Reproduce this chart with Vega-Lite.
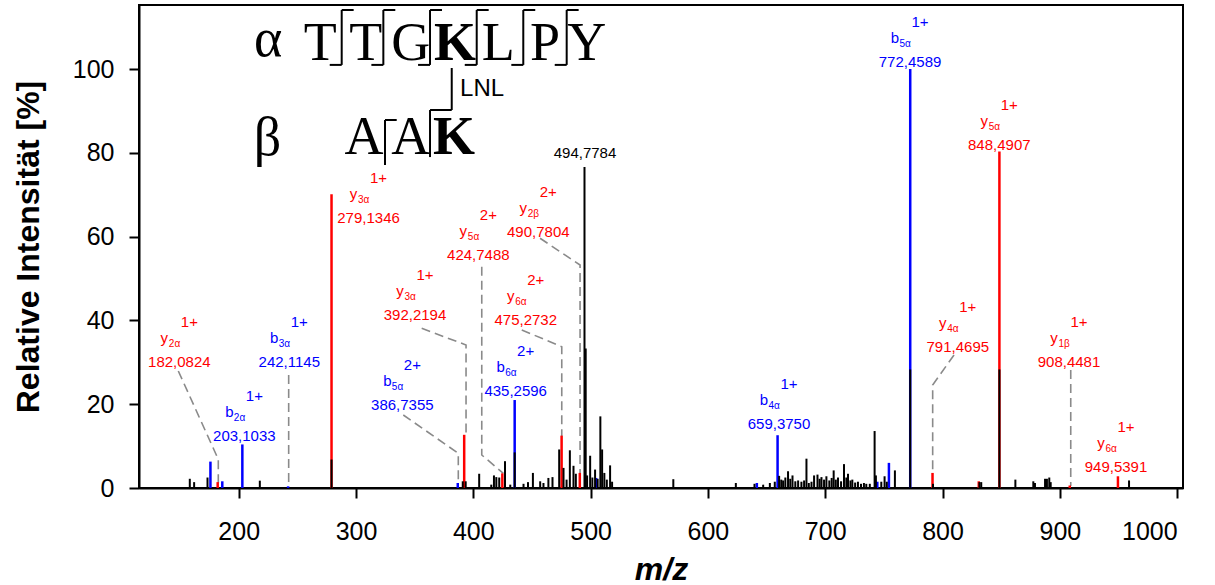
{
"$schema":"https://vega.github.io/schema/vega-lite/v6.json",
"width":1044,"height":483,
"autosize":{"type":"none"},
"padding":{"left":139,"top":5,"right":32,"bottom":97},
"background":"white",
"config":{"view":{"stroke":"#000","strokeWidth":2},"text":{"font":"Liberation Sans"}},
"datasets":{
"peaks":[
{"x":175.9,"y":6.3,"s":"b"},{"x":186,"y":1.6,"s":"b"},{"x":203.1,"y":10.4,"s":"b"},{"x":242.11,"y":0.4,"s":"b"},{"x":386.74,"y":1.2,"s":"b"},{"x":435.26,"y":21,"s":"b"},{"x":504.7,"y":2.4,"s":"b"},{"x":641.7,"y":1.2,"s":"b"},{"x":659.38,"y":12.6,"s":"b"},{"x":744.4,"y":1.5,"s":"b"},{"x":754.3,"y":6,"s":"b"},{"x":772.46,"y":100,"s":"b"},
{"x":182.08,"y":1.4,"s":"y"},{"x":279.13,"y":70.1,"s":"y"},{"x":392.22,"y":12.7,"s":"y"},{"x":424.75,"y":3.5,"s":"y"},{"x":475.27,"y":12.5,"s":"y"},{"x":490.78,"y":3.6,"s":"y"},{"x":791.47,"y":3.6,"s":"y"},{"x":830.9,"y":1.6,"s":"y"},{"x":848.49,"y":80.3,"s":"y"},{"x":908.45,"y":0.6,"s":"y"},{"x":949.54,"y":2.8,"s":"y"},
{"x":158.3,"y":2.2,"s":"n"},{"x":162,"y":1.4,"s":"n"},{"x":173.4,"y":2.5,"s":"n"},{"x":218,"y":1.75,"s":"n"},{"x":279.13,"y":6.8,"s":"n"},{"x":391,"y":1.6,"s":"n"},{"x":393.5,"y":1.6,"s":"n"},{"x":405,"y":3.4,"s":"n"},{"x":415.3,"y":0.8,"s":"n"},{"x":417.6,"y":3,"s":"n"},{"x":419.6,"y":2.6,"s":"n"},{"x":422.1,"y":2.5,"s":"n"},{"x":427,"y":6.4,"s":"n"},{"x":431.5,"y":0.8,"s":"n"},{"x":435.26,"y":8.5,"s":"n"},{"x":442.8,"y":1,"s":"n"},{"x":446.6,"y":1.4,"s":"n"},{"x":450.8,"y":3.6,"s":"n"},{"x":457,"y":1.6,"s":"n"},{"x":459.8,"y":1.2,"s":"n"},{"x":464,"y":2.4,"s":"n"},{"x":467.5,"y":2.6,"s":"n"},{"x":473.2,"y":9.2,"s":"n"},{"x":476.9,"y":4.8,"s":"n"},{"x":479.5,"y":2,"s":"n"},{"x":482.3,"y":9,"s":"n"},{"x":485.4,"y":5.3,"s":"n"},{"x":487.4,"y":3.4,"s":"n"},{"x":494.78,"y":76.6,"s":"n"},{"x":495.8,"y":33.3,"s":"n"},{"x":497,"y":3,"s":"n"},{"x":499.6,"y":7.7,"s":"n"},{"x":501.5,"y":2.5,"s":"n"},{"x":503.8,"y":4.4,"s":"n"},{"x":506,"y":2.2,"s":"n"},{"x":508.3,"y":17.1,"s":"n"},{"x":509.8,"y":9.2,"s":"n"},{"x":511.7,"y":3.6,"s":"n"},{"x":513.8,"y":2,"s":"n"},{"x":516.6,"y":5.4,"s":"n"},{"x":518.3,"y":1.5,"s":"n"},{"x":570.5,"y":2.1,"s":"n"},{"x":623.8,"y":1.2,"s":"n"},{"x":639.7,"y":1,"s":"n"},{"x":647.1,"y":0.8,"s":"n"},{"x":652.8,"y":1.2,"s":"n"},{"x":657,"y":1.5,"s":"n"},{"x":660.7,"y":2.9,"s":"n"},{"x":662.5,"y":2,"s":"n"},{"x":664.1,"y":1.8,"s":"n"},{"x":666,"y":2.5,"s":"n"},{"x":668.3,"y":4,"s":"n"},{"x":670.2,"y":2.2,"s":"n"},{"x":672.1,"y":3,"s":"n"},{"x":674.5,"y":1.6,"s":"n"},{"x":676.9,"y":1.8,"s":"n"},{"x":679.7,"y":1.5,"s":"n"},{"x":682,"y":1.8,"s":"n"},{"x":684,"y":7,"s":"n"},{"x":686,"y":1.2,"s":"n"},{"x":688.3,"y":1.5,"s":"n"},{"x":690.5,"y":3,"s":"n"},{"x":693.4,"y":3.2,"s":"n"},{"x":695.2,"y":2.2,"s":"n"},{"x":696.8,"y":2.6,"s":"n"},{"x":699,"y":2,"s":"n"},{"x":701,"y":2.8,"s":"n"},{"x":703.5,"y":1.8,"s":"n"},{"x":705.5,"y":2.4,"s":"n"},{"x":707.2,"y":4.2,"s":"n"},{"x":709,"y":2,"s":"n"},{"x":710.9,"y":2.5,"s":"n"},{"x":713.5,"y":1.6,"s":"n"},{"x":716,"y":5.7,"s":"n"},{"x":718,"y":2.5,"s":"n"},{"x":719.4,"y":3.4,"s":"n"},{"x":721.5,"y":1.8,"s":"n"},{"x":723.1,"y":2,"s":"n"},{"x":725.5,"y":1.3,"s":"n"},{"x":727.9,"y":1.5,"s":"n"},{"x":730.5,"y":1,"s":"n"},{"x":733,"y":1.2,"s":"n"},{"x":735,"y":1,"s":"n"},{"x":738,"y":1,"s":"n"},{"x":742.1,"y":13.6,"s":"n"},{"x":743.2,"y":3,"s":"n"},{"x":747.8,"y":1.5,"s":"n"},{"x":750.6,"y":2.8,"s":"n"},{"x":752.5,"y":1.5,"s":"n"},{"x":759.4,"y":4.2,"s":"n"},{"x":772.46,"y":28.3,"s":"n"},{"x":791.9,"y":1,"s":"n"},{"x":831.5,"y":1.4,"s":"n"},{"x":833,"y":1.4,"s":"n"},{"x":848.49,"y":28.3,"s":"n"},{"x":862.1,"y":2,"s":"n"},{"x":877.4,"y":1.6,"s":"n"},{"x":878.8,"y":1.2,"s":"n"},{"x":887.4,"y":2.2,"s":"n"},{"x":889,"y":2.2,"s":"n"},{"x":891,"y":2.5,"s":"n"},{"x":892.2,"y":1.4,"s":"n"},{"x":959,"y":1.8,"s":"n"}
],
"ann":[
{"x":149.4,"y":30.0,"label":"182,0824","ch":"1+","ion":"y","sub":"2α","s":"y"},
{"x":204.8,"y":12.41,"label":"203,1033","ch":"1+","ion":"b","sub":"2α","s":"b"},
{"x":243.1,"y":30.0,"label":"242,1145","ch":"1+","ion":"b","sub":"3α","s":"b"},
{"x":310.7,"y":64.45,"label":"279,1346","ch":"1+","ion":"y","sub":"3α","s":"y"},
{"x":339.5,"y":19.81,"label":"386,7355","ch":"2+","ion":"b","sub":"5α","s":"b"},
{"x":350.3,"y":41.3,"label":"392,2194","ch":"1+","ion":"y","sub":"3α","s":"y"},
{"x":404.3,"y":55.62,"label":"424,7488","ch":"2+","ion":"y","sub":"5α","s":"y"},
{"x":436.1,"y":23.16,"label":"435,2596","ch":"2+","ion":"b","sub":"6α","s":"b"},
{"x":444.7,"y":40.1,"label":"475,2732","ch":"2+","ion":"y","sub":"6α","s":"y"},
{"x":455.4,"y":61.18,"label":"490,7804","ch":"2+","ion":"y","sub":"2β","s":"y"},
{"x":495.2,"y":79.9,"label":"494,7784","ch":"","ion":"","sub":"","s":"n"},
{"x":660.6,"y":15.28,"label":"659,3750","ch":"1+","ion":"b","sub":"4α","s":"b"},
{"x":772.3,"y":101.77,"label":"772,4589","ch":"1+","ion":"b","sub":"5α","s":"b"},
{"x":813,"y":33.73,"label":"791,4695","ch":"1+","ion":"y","sub":"4α","s":"y"},
{"x":848.4,"y":81.88,"label":"848,4907","ch":"1+","ion":"y","sub":"5α","s":"y"},
{"x":907.8,"y":30.15,"label":"908,4481","ch":"1+","ion":"y","sub":"1β","s":"y"},
{"x":947.9,"y":5.08,"label":"949,5391","ch":"1+","ion":"y","sub":"6α","s":"y"}
],
"leaders":[
{"id":1,"o":1,"x":148.5,"y":27.93},{"id":1,"o":2,"x":182.6,"y":6.85},{"id":1,"o":3,"x":182.6,"y":0.3},
{"id":3,"o":1,"x":242.6,"y":26.98},{"id":3,"o":2,"x":242.6,"y":0.3},
{"id":5,"o":1,"x":340.3,"y":17.43},{"id":5,"o":2,"x":387.2,"y":8.28},{"id":5,"o":3,"x":387.2,"y":1.12},
{"id":6,"o":1,"x":356,"y":38.12},{"id":6,"o":2,"x":393.8,"y":34.14},{"id":6,"o":3,"x":393.8,"y":12.65},
{"id":7,"o":1,"x":407.2,"y":52.83},{"id":7,"o":2,"x":407.2,"y":7.88},{"id":7,"o":3,"x":425.6,"y":3.51},
{"id":9,"o":1,"x":441.3,"y":37.72},{"id":9,"o":2,"x":475.4,"y":33.73},{"id":9,"o":3,"x":475.4,"y":12.41},
{"id":10,"o":1,"x":456.9,"y":59.61},{"id":10,"o":2,"x":491,"y":53.23},{"id":10,"o":3,"x":491,"y":3.51},
{"id":14,"o":1,"x":809.8,"y":31.75},{"id":14,"o":2,"x":791.6,"y":24.59},{"id":14,"o":3,"x":791.6,"y":3.51},
{"id":16,"o":1,"x":909.3,"y":28.17},{"id":16,"o":2,"x":909.3,"y":0.48}
],
"greek":[{"x":225,"y":106.9,"t":"α"},{"x":224.5,"y":83.3,"t":"β"}],
"seq":[
{"x":269.6,"y":106.0,"t":"T","b":false},{"x":308.3,"y":106.0,"t":"T","b":false},{"x":346.6,"y":106.0,"t":"G","b":false},{"x":384.4,"y":106.0,"t":"K","b":true},{"x":421.3,"y":106.0,"t":"L","b":false},{"x":461.1,"y":106.0,"t":"P","b":false},{"x":496.7,"y":106.0,"t":"Y","b":false},
{"x":306.8,"y":83.58,"t":"A","b":false},{"x":346.6,"y":83.58,"t":"A","b":false},{"x":383.5,"y":83.58,"t":"K","b":true}
],
"brackets":[
{"x":287.8,"y":101.0,"x2":287.8,"y2":114.1},{"x":287.8,"y":114.1,"x2":298.0,"y2":114.1},{"x":277.6,"y":101.0,"x2":287.8,"y2":101.0},
{"x":323.3,"y":101.0,"x2":323.3,"y2":114.1},{"x":323.3,"y":114.1,"x2":333.5,"y2":114.1},{"x":313.1,"y":101.0,"x2":323.3,"y2":101.0},
{"x":363.1,"y":101.0,"x2":363.1,"y2":114.1},{"x":363.1,"y":114.1,"x2":373.3,"y2":114.1},{"x":352.9,"y":101.0,"x2":363.1,"y2":101.0},
{"x":402.9,"y":101.0,"x2":402.9,"y2":114.1},{"x":402.9,"y":114.1,"x2":413.1,"y2":114.1},{"x":392.7,"y":101.0,"x2":402.9,"y2":101.0},
{"x":442.6,"y":101.0,"x2":442.6,"y2":114.1},{"x":442.6,"y":114.1,"x2":452.8,"y2":114.1},{"x":432.4,"y":101.0,"x2":442.6,"y2":101.0},
{"x":479.6,"y":101.0,"x2":479.6,"y2":114.1},{"x":479.6,"y":114.1,"x2":489.8,"y2":114.1},{"x":469.4,"y":101.0,"x2":479.6,"y2":101.0},
{"x":324.7,"y":77.1,"x2":324.7,"y2":87.85},{"x":324.7,"y":87.85,"x2":334.7,"y2":87.85},
{"x":363.1,"y":79.0,"x2":363.1,"y2":90.23},{"x":363.1,"y":90.23,"x2":381.6,"y2":90.23},
{"x":381.6,"y":90.23,"x2":381.6,"y2":100.26}
],
"lnl":[{"x":388.7,"y":95.25,"t":"LNL"}]
},
"encoding":{
"x":{"field":"x","type":"quantitative","scale":{"domain":[115,1005],"nice":false,"zero":false},
"axis":{"values":[200,300,400,500,600,700,800,900,1000],"format":"d","grid":false,"tickSize":10,"tickWidth":2,"tickColor":"#000","domainColor":"#000","domainWidth":2,"labelFont":"Liberation Sans","labelFontSize":25,"labelColor":"#000","labelPadding":21,"labelFlush":10,"title":"m/z","titleFont":"Liberation Sans","titleFontSize":32,"titleFontWeight":"bold","titleFontStyle":"italic","titleColor":"#000","titlePadding":10}},
"y":{"field":"y","type":"quantitative","scale":{"domain":[0,115.3],"nice":false,"zero":false},
"axis":{"values":[0,20,40,60,80,100],"grid":false,"tickSize":10,"tickWidth":2,"tickColor":"#000","domainColor":"#000","domainWidth":2,"labelFont":"Liberation Sans","labelFontSize":25,"labelColor":"#000","labelPadding":15,"labelFlush":false,"title":"Relative Intensität [%]","titleFont":"Liberation Sans","titleFontSize":32,"titleFontWeight":"bold","titleColor":"#000","titlePadding":27}}
},
"layer":[
{"data":{"name":"leaders"},"mark":{"type":"line","color":"#8a8a8a","strokeWidth":1.6,"strokeDash":[9,5]},
"encoding":{"detail":{"field":"id","type":"nominal"},"order":{"field":"o","type":"quantitative"}}},
{"data":{"name":"peaks"},"transform":[{"filter":"datum.s != 'n'"}],"mark":{"type":"rule","strokeWidth":2.5},
"encoding":{"y2":{"datum":0},"color":{"field":"s","type":"nominal","scale":{"domain":["b","y","n"],"range":["#0000ff","#ff0000","#000000"]},"legend":null}}},
{"data":{"name":"peaks"},"transform":[{"filter":"datum.s == 'n'"}],"mark":{"type":"rule","strokeWidth":2,"color":"#000"},
"encoding":{"y2":{"datum":0}}},
{"data":{"name":"ann"},"mark":{"type":"text","fontSize":15,"align":"center","baseline":"middle"},
"encoding":{"text":{"field":"label"},"color":{"field":"s","type":"nominal","scale":{"domain":["b","y","n"],"range":["#0000ff","#ff0000","#000000"]},"legend":null}}},
{"data":{"name":"ann"},"mark":{"type":"text","fontSize":15,"align":"center","baseline":"middle","dx":10,"dy":-40},
"encoding":{"text":{"field":"ch"},"color":{"field":"s","type":"nominal","scale":{"domain":["b","y","n"],"range":["#0000ff","#ff0000","#000000"]},"legend":null}}},
{"data":{"name":"ann"},"mark":{"type":"text","fontSize":15,"align":"center","baseline":"middle","dx":-15,"dy":-24},
"encoding":{"text":{"field":"ion"},"color":{"field":"s","type":"nominal","scale":{"domain":["b","y","n"],"range":["#0000ff","#ff0000","#000000"]},"legend":null}}},
{"data":{"name":"ann"},"mark":{"type":"text","fontSize":10,"align":"left","baseline":"middle","dx":-10.5,"dy":-18},
"encoding":{"text":{"field":"sub"},"color":{"field":"s","type":"nominal","scale":{"domain":["b","y","n"],"range":["#0000ff","#ff0000","#000000"]},"legend":null}}},
{"data":{"name":"brackets"},"mark":{"type":"rule","color":"#000","strokeWidth":2},
"encoding":{"x2":{"field":"x2"},"y2":{"field":"y2"}}},
{"data":{"name":"greek"},"mark":{"type":"text","font":"Liberation Serif","fontSize":54,"align":"center","baseline":"middle","color":"#000"},
"encoding":{"text":{"field":"t"}}},
{"data":{"name":"seq"},"transform":[{"filter":"!datum.b"}],"mark":{"type":"text","font":"Liberation Serif","fontSize":54,"align":"center","baseline":"middle","color":"#000"},
"encoding":{"text":{"field":"t"}}},
{"data":{"name":"seq"},"transform":[{"filter":"datum.b"}],"mark":{"type":"text","font":"Liberation Serif","fontSize":54,"fontWeight":"bold","align":"center","baseline":"middle","color":"#000"},
"encoding":{"text":{"field":"t"}}},
{"data":{"name":"lnl"},"mark":{"type":"text","fontSize":24,"align":"left","baseline":"middle","color":"#000"},
"encoding":{"text":{"field":"t"}}}
]
}
